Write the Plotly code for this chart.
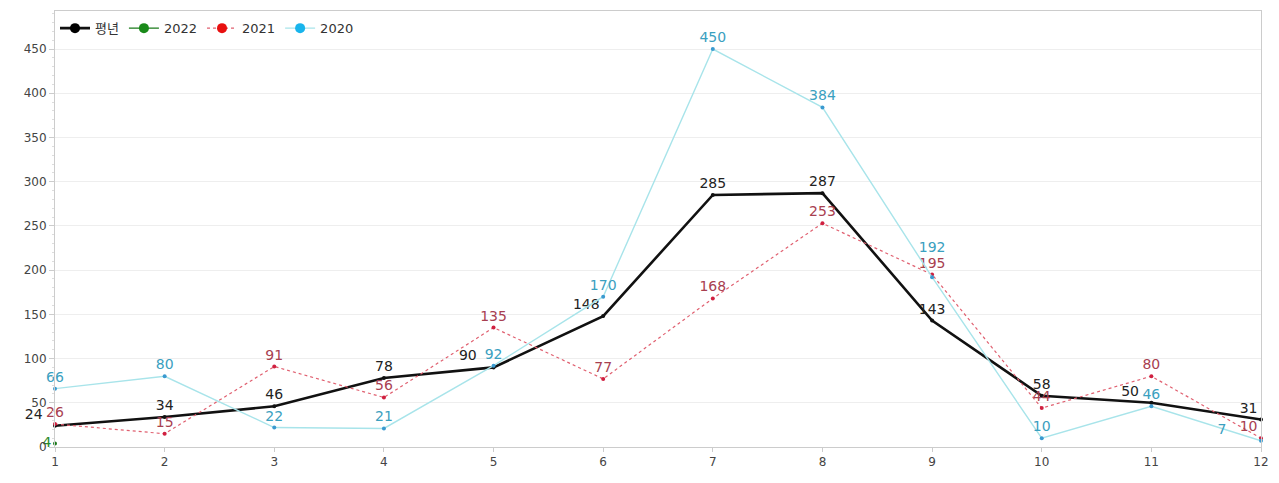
import plotly.graph_objects as go

months = [1, 2, 3, 4, 5, 6, 7, 8, 9, 10, 11, 12]
normal = [24, 34, 46, 78, 90, 148, 285, 287, 143, 58, 50, 31]
y2022 = [4]
y2021 = [26, 15, 91, 56, 135, 77, 168, 253, 195, 44, 80, 10]
y2020 = [66, 80, 22, 21, 92, 170, 450, 384, 192, 10, 46, 7]

FONT = "DejaVu Sans, Noto Sans CJK KR, sans-serif"
NB = "\u00a0"


def labels(values, pad_right=None, lift=None):
    """Value labels; optional trailing padding pushes a label left, an extra
    empty line lifts it higher above its point."""
    out = []
    for i, v in enumerate(values):
        s = str(v)
        if pad_right and i in pad_right:
            s = s + NB * pad_right[i]
        if lift and i in lift:
            s = s + "<br>" + NB
        out.append(s)
    return out


series = [
    dict(name="평년", y=normal, x=months,
         line=dict(color="#111111", width=2.6), mcolor="#111111", lmcolor="#000000",
         tcolor="#222222",
         text=labels(normal, pad_right={0: 2, 4: 3, 10: 2}),
         pos=["top left", "top center", "top center", "top center", "top left",
              "top left", "top center", "top center", "top center", "top center",
              "top left", "top left"]),
    dict(name="2022", y=y2022, x=months[:1],
         line=dict(color="#1a7a1a", width=1.2), mcolor="#1a7a1a", lmcolor="#1a8a1a",
         tcolor="#2a8a2a",
         text=labels(y2022), pos=["middle left"]),
    dict(name="2021", y=y2021, x=months,
         line=dict(color="#e06070", width=1.2, dash="dot"), mcolor="#d02040",
         lmcolor="#e81010", tcolor="#a84050",
         text=labels(y2021), pos=["top center"] * 11 + ["top left"]),
    dict(name="2020", y=y2020, x=months,
         line=dict(color="#a8e4ea", width=1.4), mcolor="#3a9ad0", lmcolor="#18b4ec",
         tcolor="#3aa0c0",
         text=labels(y2020, pad_right={11: 7}, lift={8: 1}),
         pos=["top center"] * 11 + ["top left"]),
]

fig = go.Figure()

for s in series:
    fig.add_trace(go.Scatter(
        x=s["x"], y=s["y"], name=s["name"], mode="lines+markers+text",
        line=s["line"], marker=dict(color=s["mcolor"], size=4),
        text=s["text"], textposition=s["pos"],
        textfont=dict(color=s["tcolor"], size=14, family=FONT),
        cliponaxis=False, showlegend=False,
    ))

# legend entries with larger markers
for s in series:
    fig.add_trace(go.Scatter(
        x=[None], y=[None], name=s["name"], mode="lines+markers",
        line=s["line"], marker=dict(color=s["lmcolor"], size=10),
        showlegend=True,
    ))

fig.update_layout(
    width=1279, height=483,
    margin=dict(l=55, r=15, t=10, b=36),
    paper_bgcolor="white", plot_bgcolor="white",
    font=dict(family=FONT, color="#444444", size=12),
    legend=dict(orientation="h", x=0.0, y=0.995, xanchor="left", yanchor="top",
                bgcolor="rgba(255,255,255,0)", font=dict(size=13, color="#333333"),
                itemwidth=30),
    xaxis=dict(range=[1, 12], tickmode="array", tickvals=months,
               showgrid=False, zeroline=False, showline=True, linecolor="#cccccc",
               ticks="outside", ticklen=4, tickcolor="#cccccc", mirror=True,
               tickfont=dict(size=12, color="#444444")),
    yaxis=dict(range=[0, 493], tickmode="array", tickvals=list(range(0, 451, 50)),
               showgrid=True, gridcolor="#eeeeee", zeroline=False,
               showline=True, linecolor="#cccccc", mirror=True,
               ticks="outside", ticklen=5, tickcolor="#cccccc",
               minor=dict(dtick=10, ticks="outside", ticklen=2, tickcolor="#dddddd", showgrid=False),
               tickfont=dict(size=12, color="#444444")),
)

fig.write_html("out.html")
